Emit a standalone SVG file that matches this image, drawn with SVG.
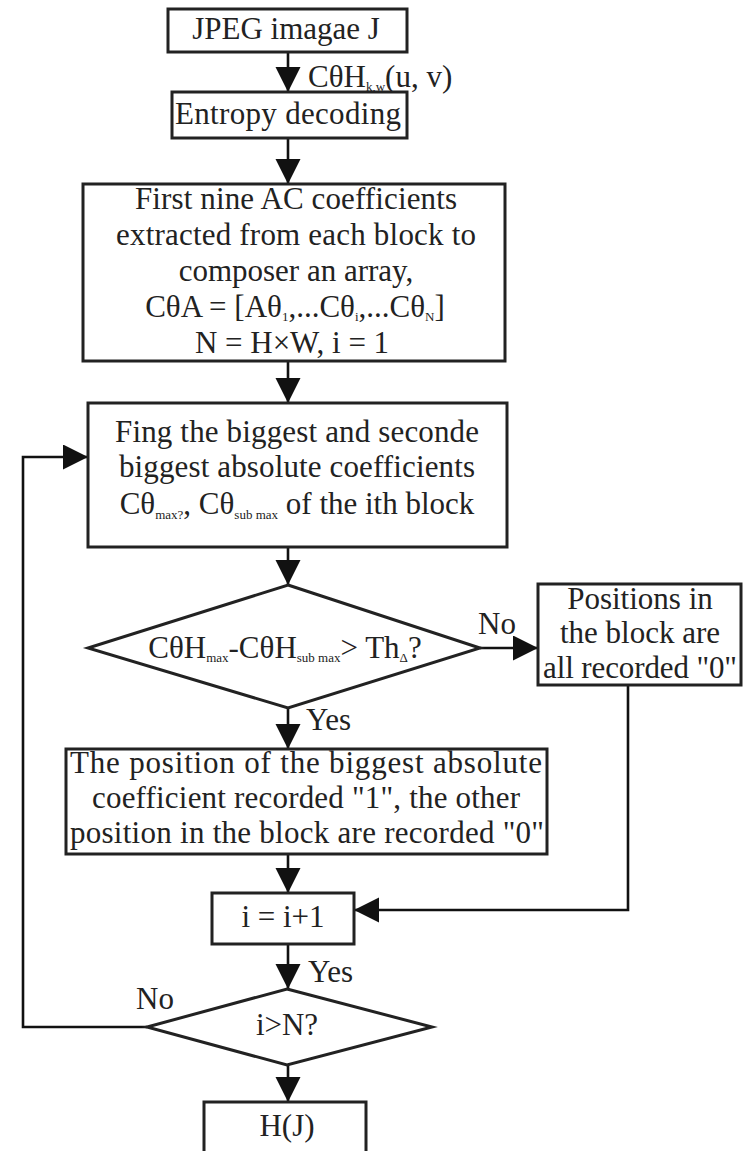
<svg xmlns="http://www.w3.org/2000/svg" width="743" height="1151" viewBox="0 0 743 1151">
<style>
.box{fill:#fff;stroke:#222;stroke-width:3}
.ln{fill:none;stroke:#111;stroke-width:2.6}
text{font-family:"Liberation Serif","Times New Roman",serif;font-size:31px;fill:#222}
.c{text-anchor:middle}
.sub{font-size:13px}
</style>
<defs>
<marker id="ah" markerUnits="userSpaceOnUse" markerWidth="26" markerHeight="26" refX="25" refY="12.5" orient="auto">
<path d="M0,0 L25,12.5 L0,25 Z" fill="#111"/>
</marker>
</defs>
<rect width="743" height="1151" fill="#fff"/>
<g id="connectors">
<line class="ln" x1="288" y1="52" x2="288" y2="92" marker-end="url(#ah)"/>
<line class="ln" x1="288" y1="138" x2="288" y2="184" marker-end="url(#ah)"/>
<line class="ln" x1="288" y1="361" x2="288" y2="403" marker-end="url(#ah)"/>
<line class="ln" x1="288" y1="547" x2="288" y2="585" marker-end="url(#ah)"/>
<line class="ln" x1="480" y1="648" x2="538" y2="648" marker-end="url(#ah)"/>
<line class="ln" x1="288" y1="708" x2="288" y2="749" marker-end="url(#ah)"/>
<line class="ln" x1="288" y1="854" x2="288" y2="893" marker-end="url(#ah)"/>
<polyline class="ln" points="628,685 628,910 354,910" marker-end="url(#ah)"/>
<line class="ln" x1="288" y1="944" x2="288" y2="989" marker-end="url(#ah)"/>
<line class="ln" x1="288" y1="1065" x2="288" y2="1102" marker-end="url(#ah)"/>
<polyline class="ln" points="147,1027 23,1027 23,457 88,457" marker-end="url(#ah)"/>
<text x="308" y="87">CθH<tspan class="sub" dy="4">k,w</tspan><tspan dy="-4">(u, v)</tspan></text>
<text x="478" y="634" font-size="29">No</text>
<text x="306" y="730">Yes</text>
<text x="308" y="982">Yes</text>
<text x="136" y="1009">No</text>
</g>
<g id="n1">
<rect class="box" x="168" y="9" width="239" height="43"/>
<text class="c" x="286" y="39">JPEG imagae J</text>
</g>
<g id="n2">
<rect class="box" x="172" y="92" width="235" height="46"/>
<text class="c" x="288" y="124" textLength="226">Entropy decoding</text>
</g>
<g id="n3">
<rect class="box" x="83" y="184" width="422" height="177"/>
<text class="c" x="296" y="209" textLength="322">First nine AC coefficients</text>
<text class="c" x="296" y="245" textLength="360">extracted from each block to</text>
<text class="c" x="296" y="281">composer an array,</text>
<text class="c" x="295" y="317">CθA = [Aθ<tspan class="sub" dy="4">1</tspan><tspan dy="-4">,...Cθ</tspan><tspan class="sub" dy="4">i</tspan><tspan dy="-4">,...Cθ</tspan><tspan class="sub" dy="4">N</tspan><tspan dy="-4">]</tspan></text>
<text class="c" x="292" y="353">N = H×W, i = 1</text>
</g>
<g id="n4">
<rect class="box" x="88" y="403" width="419" height="144"/>
<text class="c" x="297" y="442" textLength="364">Fing the biggest and seconde</text>
<text class="c" x="297" y="477" textLength="356">biggest absolute coefficients</text>
<text class="c" x="297" y="514">Cθ<tspan class="sub" dy="5">max?</tspan><tspan dy="-5">, Cθ</tspan><tspan class="sub" dy="5">sub max</tspan><tspan dy="-5"> of the ith block</tspan></text>
</g>
<g id="n5">
<polygon class="box" points="288,585 480,648 288,708 88,648"/>
<text class="c" x="285" y="658">CθH<tspan class="sub" dy="4">max</tspan><tspan dy="-4">-CθH</tspan><tspan class="sub" dy="4">sub max</tspan><tspan dy="-4">&gt; Th</tspan><tspan class="sub" dy="4">Δ</tspan><tspan dy="-4">?</tspan></text>
</g>
<g id="n6">
<rect class="box" x="538" y="584" width="203" height="101"/>
<text class="c" x="640" y="609">Positions in</text>
<text class="c" x="640" y="643">the block are</text>
<text class="c" x="640" y="678" textLength="194">all recorded "0"</text>
</g>
<g id="n7">
<rect class="box" x="66" y="749" width="481" height="105"/>
<text class="c" x="306" y="773" textLength="472">The position of the biggest absolute</text>
<text class="c" x="306" y="808" textLength="428">coefficient recorded "1", the other</text>
<text class="c" x="307" y="843" textLength="474">position in the block are recorded "0"</text>
</g>
<g id="n8">
<rect class="box" x="212" y="893" width="142" height="51"/>
<text class="c" x="283" y="927">i = i+1</text>
</g>
<g id="n9">
<polygon class="box" points="287,989 432,1027 287,1065 147,1027"/>
<text class="c" x="287" y="1035">i&gt;N?</text>
</g>
<g id="n10">
<rect class="box" x="204" y="1102" width="162" height="60"/>
<text class="c" x="287" y="1136">H(J)</text>
</g>
</svg>
